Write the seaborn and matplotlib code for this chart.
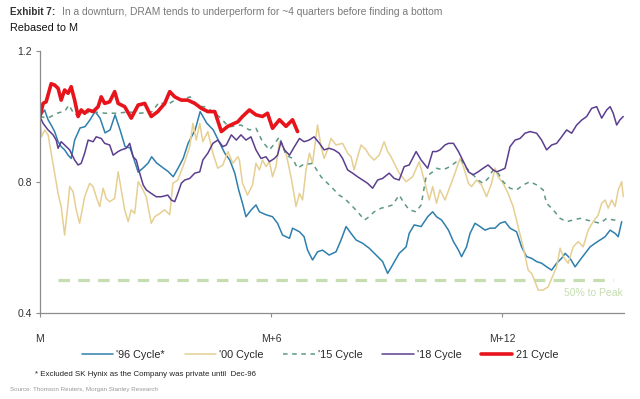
import matplotlib
matplotlib.use("Agg")
import matplotlib.pyplot as plt
import pandas as pd
import seaborn as sns
from matplotlib.lines import Line2D

# ---------------- data (months after M, rebased value) ----------------
series_names = ["'96 Cycle*", "'00 Cycle", "'15 Cycle", "'18 Cycle", "21 Cycle"]
x_tick_pos = [0, 6, 12]
x_tick_labels = ["M", "M+6", "M+12"]
y_ticks = [0.4, 0.8, 1.2]
peak_level = 0.5

m96 = [
    0.00, 0.12, 0.21, 0.29, 0.38, 0.47, 0.55, 0.64, 0.73, 0.81,
    0.90, 1.04, 1.17, 1.30, 1.43, 1.56, 1.69, 1.82, 1.95, 2.08,
    2.21, 2.34, 2.42, 2.55, 2.68, 2.81, 2.90, 3.03, 3.20, 3.33,
    3.46, 3.59, 3.72, 3.85, 4.03, 4.16, 4.33, 4.50, 4.63, 4.80,
    4.93, 5.06, 5.16, 5.26, 5.35, 5.48, 5.61, 5.70, 5.87, 6.04,
    6.17, 6.30, 6.48, 6.56, 6.74, 6.86, 6.95, 7.08, 7.21, 7.34,
    7.51, 7.69, 7.82, 7.95, 8.08, 8.21, 8.38, 8.55, 8.73, 8.90,
    9.03, 9.16, 9.33, 9.51, 9.59, 9.72, 9.90, 10.07, 10.20, 10.30,
    10.43, 10.52, 10.61, 10.74, 10.87, 10.95, 11.08, 11.17, 11.30, 11.43,
    11.56, 11.69, 11.82, 11.95, 12.08, 12.21, 12.38, 12.51, 12.64, 12.77,
    12.90, 13.03, 13.16, 13.29, 13.42, 13.55, 13.64, 13.77, 13.90, 14.03,
    14.16, 14.29, 14.42, 14.55, 14.68, 14.81, 14.94, 15.02, 15.11]
v96 = [
    1.000, 1.020, 0.990, 0.974, 0.954, 0.923, 0.908, 0.898, 0.882, 0.872,
    0.928, 0.965, 0.969, 0.990, 1.015, 0.995, 0.950, 0.959, 1.005, 0.959,
    0.908, 0.904, 0.877, 0.830, 0.843, 0.858, 0.877, 0.858, 0.843, 0.832,
    0.816, 0.843, 0.872, 0.919, 0.959, 1.015, 0.980, 0.959, 0.928, 0.888,
    0.867, 0.827, 0.776, 0.735, 0.694, 0.714, 0.730, 0.709, 0.700, 0.694,
    0.674, 0.638, 0.628, 0.659, 0.648, 0.633, 0.592, 0.562, 0.587, 0.592,
    0.577, 0.587, 0.623, 0.664, 0.643, 0.623, 0.613, 0.598, 0.577, 0.557,
    0.521, 0.547, 0.582, 0.602, 0.643, 0.669, 0.664, 0.694, 0.709, 0.694,
    0.684, 0.669, 0.653, 0.618, 0.592, 0.572, 0.602, 0.643, 0.674, 0.664,
    0.653, 0.659, 0.659, 0.674, 0.679, 0.659, 0.648, 0.602, 0.572, 0.567,
    0.557, 0.552, 0.541, 0.531, 0.552, 0.567, 0.582, 0.567, 0.541, 0.562,
    0.582, 0.602, 0.613, 0.623, 0.633, 0.653, 0.643, 0.633, 0.679]

m00 = [
    0.00, 0.04, 0.12, 0.21, 0.29, 0.38, 0.47, 0.55, 0.64, 0.73,
    0.77, 0.86, 0.94, 1.03, 1.16, 1.29, 1.38, 1.46, 1.55, 1.64,
    1.72, 1.81, 1.94, 2.03, 2.11, 2.20, 2.29, 2.37, 2.46, 2.55,
    2.63, 2.76, 2.89, 2.98, 3.11, 3.24, 3.37, 3.45, 3.58, 3.76,
    3.89, 3.97, 4.06, 4.15, 4.23, 4.36, 4.49, 4.62, 4.75, 4.88,
    5.01, 5.14, 5.18, 5.26, 5.39, 5.52, 5.61, 5.70, 5.78, 5.87,
    5.96, 6.04, 6.13, 6.22, 6.30, 6.39, 6.52, 6.61, 6.65, 6.74,
    6.82, 6.91, 7.00, 7.08, 7.17, 7.21, 7.30, 7.38, 7.47, 7.56,
    7.69, 7.86, 7.99, 8.08, 8.16, 8.25, 8.34, 8.47, 8.55, 8.68,
    8.81, 8.94, 9.03, 9.12, 9.20, 9.33, 9.51, 9.68, 9.85, 9.98,
    10.11, 10.20, 10.30, 10.39, 10.52, 10.65, 10.78, 10.91, 11.00, 11.13,
    11.21, 11.34, 11.47, 11.60, 11.73, 11.82, 11.90, 12.03, 12.16, 12.29,
    12.42, 12.55, 12.68, 12.77, 12.86, 12.94, 13.07, 13.20, 13.33, 13.42,
    13.51, 13.59, 13.72, 13.85, 13.98, 14.11, 14.24, 14.37, 14.50, 14.59,
    14.68, 14.76, 14.85, 14.94, 15.02, 15.11, 15.15]
v00 = [
    1.000, 0.938, 0.959, 0.944, 0.888, 0.827, 0.765, 0.725, 0.638, 0.735,
    0.786, 0.770, 0.715, 0.674, 0.755, 0.796, 0.786, 0.755, 0.725, 0.781,
    0.750, 0.740, 0.750, 0.831, 0.776, 0.715, 0.679, 0.715, 0.704, 0.801,
    0.786, 0.755, 0.674, 0.694, 0.704, 0.715, 0.700, 0.796, 0.806, 0.862,
    0.908, 0.979, 0.928, 0.979, 0.923, 0.954, 0.888, 0.842, 0.852, 0.893,
    0.857, 0.877, 0.867, 0.796, 0.760, 0.791, 0.857, 0.837, 0.867, 0.847,
    0.862, 0.816, 0.847, 0.923, 0.908, 0.888, 0.816, 0.755, 0.725, 0.765,
    0.745, 0.837, 0.888, 0.857, 0.938, 0.974, 0.908, 0.872, 0.898, 0.933,
    0.913, 0.918, 0.888, 0.877, 0.837, 0.877, 0.913, 0.898, 0.882, 0.867,
    0.882, 0.923, 0.893, 0.877, 0.857, 0.827, 0.801, 0.816, 0.862, 0.806,
    0.745, 0.786, 0.735, 0.776, 0.745, 0.786, 0.827, 0.872, 0.847, 0.796,
    0.786, 0.806, 0.791, 0.755, 0.796, 0.842, 0.816, 0.796, 0.765, 0.725,
    0.664, 0.602, 0.531, 0.521, 0.496, 0.470, 0.470, 0.480, 0.516, 0.541,
    0.598, 0.572, 0.552, 0.602, 0.618, 0.602, 0.653, 0.679, 0.699, 0.735,
    0.745, 0.720, 0.745, 0.725, 0.776, 0.801, 0.755]

m15 = [
    0.00, 0.20, 0.45, 0.65, 0.75, 0.90, 1.10, 1.40, 1.70, 2.00,
    2.30, 2.60, 2.90, 3.10, 3.30, 3.50, 3.70, 3.90, 4.10, 4.30,
    4.50, 4.70, 4.90, 5.22, 5.44, 5.61, 5.78, 5.96, 6.13, 6.22,
    6.39, 6.56, 6.69, 6.82, 7.08, 7.30, 7.47, 7.60, 7.77, 7.91,
    8.08, 8.25, 8.43, 8.55, 8.68, 8.86, 9.03, 9.16, 9.33, 9.46,
    9.59, 9.77, 9.90, 10.03, 10.20, 10.30, 10.47, 10.65, 10.82, 10.95,
    11.08, 11.21, 11.38, 11.51, 11.64, 11.77, 11.90, 12.03, 12.21, 12.38,
    12.55, 12.73, 12.90, 13.07, 13.16, 13.33, 13.51, 13.68, 13.85, 14.03,
    14.20, 14.37, 14.55, 14.72, 14.89, 15.06]
v15 = [
    1.000, 0.995, 1.010, 1.017, 1.035, 1.005, 1.010, 1.014, 1.010, 1.010,
    1.014, 1.010, 1.014, 1.044, 1.035, 1.050, 1.053, 1.060, 1.032, 1.029,
    1.014, 0.995, 0.968, 0.974, 0.959, 0.964, 0.923, 0.898, 0.923, 0.938,
    0.882, 0.872, 0.842, 0.852, 0.857, 0.816, 0.796, 0.781, 0.760, 0.750,
    0.730, 0.709, 0.684, 0.694, 0.709, 0.720, 0.725, 0.730, 0.760, 0.735,
    0.715, 0.709, 0.730, 0.816, 0.831, 0.842, 0.837, 0.847, 0.862, 0.867,
    0.842, 0.827, 0.806, 0.796, 0.811, 0.837, 0.827, 0.801, 0.781, 0.776,
    0.791, 0.801, 0.791, 0.776, 0.735, 0.715, 0.689, 0.679, 0.684, 0.689,
    0.684, 0.679, 0.674, 0.689, 0.684, 0.684]

m18 = [
    0.00, 0.08, 0.21, 0.34, 0.42, 0.47, 0.55, 0.64, 0.77, 0.90,
    0.99, 1.07, 1.16, 1.25, 1.38, 1.46, 1.59, 1.68, 1.81, 1.90,
    2.03, 2.11, 2.24, 2.33, 2.42, 2.50, 2.59, 2.68, 2.76, 2.89,
    3.02, 3.15, 3.32, 3.41, 3.50, 3.58, 3.67, 3.76, 3.89, 4.02,
    4.15, 4.23, 4.36, 4.49, 4.62, 4.75, 4.84, 4.97, 5.10, 5.22,
    5.35, 5.48, 5.61, 5.74, 5.87, 5.96, 6.09, 6.17, 6.26, 6.35,
    6.48, 6.61, 6.74, 6.86, 6.99, 7.12, 7.26, 7.38, 7.51, 7.64,
    7.77, 7.86, 7.99, 8.12, 8.25, 8.38, 8.51, 8.64, 8.77, 8.90,
    9.07, 9.20, 9.33, 9.46, 9.59, 9.77, 9.90, 10.07, 10.20, 10.30,
    10.39, 10.52, 10.61, 10.74, 10.87, 11.00, 11.13, 11.25, 11.38, 11.51,
    11.64, 11.77, 11.86, 11.99, 12.08, 12.21, 12.34, 12.47, 12.60, 12.73,
    12.90, 13.03, 13.16, 13.29, 13.42, 13.55, 13.68, 13.81, 13.94, 14.07,
    14.20, 14.33, 14.46, 14.59, 14.72, 14.81, 14.89, 14.98, 15.06, 15.15]
v18 = [
    1.000, 0.979, 0.959, 0.944, 0.928, 0.903, 0.923, 0.913, 0.898, 0.867,
    0.852, 0.857, 0.888, 0.928, 0.923, 0.938, 0.933, 0.918, 0.913, 0.882,
    0.893, 0.898, 0.903, 0.918, 0.877, 0.867, 0.827, 0.791, 0.776, 0.765,
    0.755, 0.755, 0.760, 0.745, 0.740, 0.765, 0.796, 0.806, 0.811, 0.827,
    0.831, 0.867, 0.888, 0.918, 0.928, 0.908, 0.913, 0.944, 0.928, 0.944,
    0.928, 0.938, 0.898, 0.872, 0.877, 0.862, 0.872, 0.882, 0.923, 0.898,
    0.882, 0.908, 0.933, 0.923, 0.928, 0.938, 0.918, 0.898, 0.903, 0.898,
    0.888, 0.872, 0.837, 0.827, 0.816, 0.806, 0.796, 0.781, 0.806, 0.811,
    0.827, 0.811, 0.806, 0.847, 0.852, 0.893, 0.867, 0.842, 0.893, 0.893,
    0.898, 0.913, 0.918, 0.918, 0.893, 0.862, 0.831, 0.822, 0.831, 0.842,
    0.852, 0.837, 0.831, 0.837, 0.842, 0.908, 0.928, 0.933, 0.949, 0.954,
    0.949, 0.928, 0.898, 0.913, 0.918, 0.938, 0.959, 0.949, 0.974, 0.989,
    1.000, 1.025, 1.030, 0.995, 1.020, 1.030, 1.010, 0.974, 0.989, 1.000]

m21 = [
    0.00, 0.08, 0.16, 0.29, 0.38, 0.47, 0.55, 0.64, 0.73, 0.81,
    0.90, 0.99, 1.07, 1.16, 1.25, 1.38, 1.51, 1.59, 1.68, 1.81,
    1.94, 2.03, 2.20, 2.37, 2.55, 2.72, 2.89, 3.06, 3.24, 3.37,
    3.50, 3.67, 3.84, 4.02, 4.19, 4.36, 4.54, 4.71, 4.88, 5.14,
    5.26, 5.44, 5.61, 5.78, 5.91, 6.04, 6.22, 6.39, 6.56, 6.69]
v21 = [
    1.000, 1.040, 1.045, 1.100, 1.096, 1.086, 1.050, 1.081, 1.071, 1.091,
    1.050, 1.000, 1.020, 1.010, 1.020, 1.015, 1.030, 1.060, 1.040, 1.045,
    1.076, 1.040, 1.030, 0.995, 1.035, 1.040, 1.000, 1.015, 1.040, 1.076,
    1.060, 1.050, 1.050, 1.040, 1.025, 1.015, 1.015, 0.954, 0.970, 0.984,
    1.000, 1.020, 1.005, 1.000, 1.010, 0.964, 0.990, 0.970, 0.990, 0.954]

# ---------------- styling ----------------
colors = ["#2f7fad", "#e6cf92", "#5e9884", "#5b3f8e", "#e8141b"]
widths = [1.1, 1.1, 1.1, 1.1, 2.6]
styles = ["-", "-", (0, (3, 3)), "-", "-"]

sns.set_theme(style="ticks")
plt.rcParams['font.family'] = ['Liberation Sans', 'DejaVu Sans']
narrow = ['Liberation Sans Narrow', 'Liberation Sans', 'DejaVu Sans']

fig = plt.figure(figsize=(6.4, 3.99), dpi=100)
ax = fig.add_axes([40 / 640, 1 - 313 / 399, 584 / 640, 262 / 399])

data_sets = [(m96, v96), (m00, v00), (m15, v15), (m18, v18), (m21, v21)]
for name, (mx, vy), c, lw, ls in zip(series_names, data_sets, colors, widths, styles):
    df = pd.DataFrame({"month": mx, "value": vy})
    sns.lineplot(data=df, x="month", y="value", ax=ax, color=c, linewidth=lw,
                 linestyle=ls, sort=False, estimator=None, label=name)

# 50% to peak reference line
ax.hlines(peak_level, 0.47, 14.88, colors="#c5ddb0", linewidth=2.3,
          linestyles=[(0, (3.6, 2.6))], zorder=1)
ax.text(15.15, peak_level - 0.04, "50% to Peak", color="#c5ddb0", fontsize=7.5,
        ha="right", va="center")

ax.set_xlim(0, 15.17)
ax.set_ylim(0.4, 1.2)
ax.set_xticks(x_tick_pos)
ax.set_xticklabels(x_tick_labels)
ax.set_yticks(y_ticks)
ax.set_yticklabels([f"{t:.1f}" for t in y_ticks])
ax.set_xlabel("")
ax.set_ylabel("")
sns.despine(ax=ax)
for s in ["left", "bottom"]:
    ax.spines[s].set_color("#8c8c8c")
    ax.spines[s].set_linewidth(0.9)
ax.tick_params(axis="y", direction="out", length=3, width=0.8, color="#8c8c8c",
               labelsize=7.5, labelcolor="#333333", pad=3)
ax.tick_params(axis="x", direction="out", length=3, width=0.8, color="#8c8c8c",
               labelsize=7.5, labelcolor="#333333", pad=12)

# legend
handles = [Line2D([0], [0], color=c, lw=lw, linestyle=ls)
           for c, lw, ls in zip(colors, widths, styles)]
ax.legend(handles, series_names, loc="center", bbox_to_anchor=(0.5, 1 - 355 / 399),
          bbox_transform=fig.transFigure, ncol=5, frameon=False, fontsize=7.8,
          handlelength=2.9, handletextpad=0.3, columnspacing=1.8)

# titles and notes
fig.text(10 / 640, 1 - 12 / 399, "Exhibit 7:", fontsize=7.2, fontweight="bold",
         color="#333333", va="center", family=narrow)
fig.text(62 / 640, 1 - 12 / 399,
         "In a downturn, DRAM tends to underperform for ~4 quarters before finding a bottom",
         fontsize=7.4, color="#7a7a7a", va="center", family=narrow)
fig.text(10 / 640, 1 - 28 / 399, "Rebased to M", fontsize=7.8, color="#111111",
         va="center", family=narrow)
fig.text(35 / 640, 1 - 375 / 399,
         "* Excluded SK Hynix as the Company was private until  Dec-96",
         fontsize=5.7, color="#222222", va="center", family=narrow)
fig.text(10 / 640, 1 - 390 / 399, "Source: Thomson Reuters, Morgan Stanley Research",
         fontsize=4.5, color="#9a9a9a", va="center", family=narrow)

fig.savefig("out.png", dpi=100, facecolor="white")
